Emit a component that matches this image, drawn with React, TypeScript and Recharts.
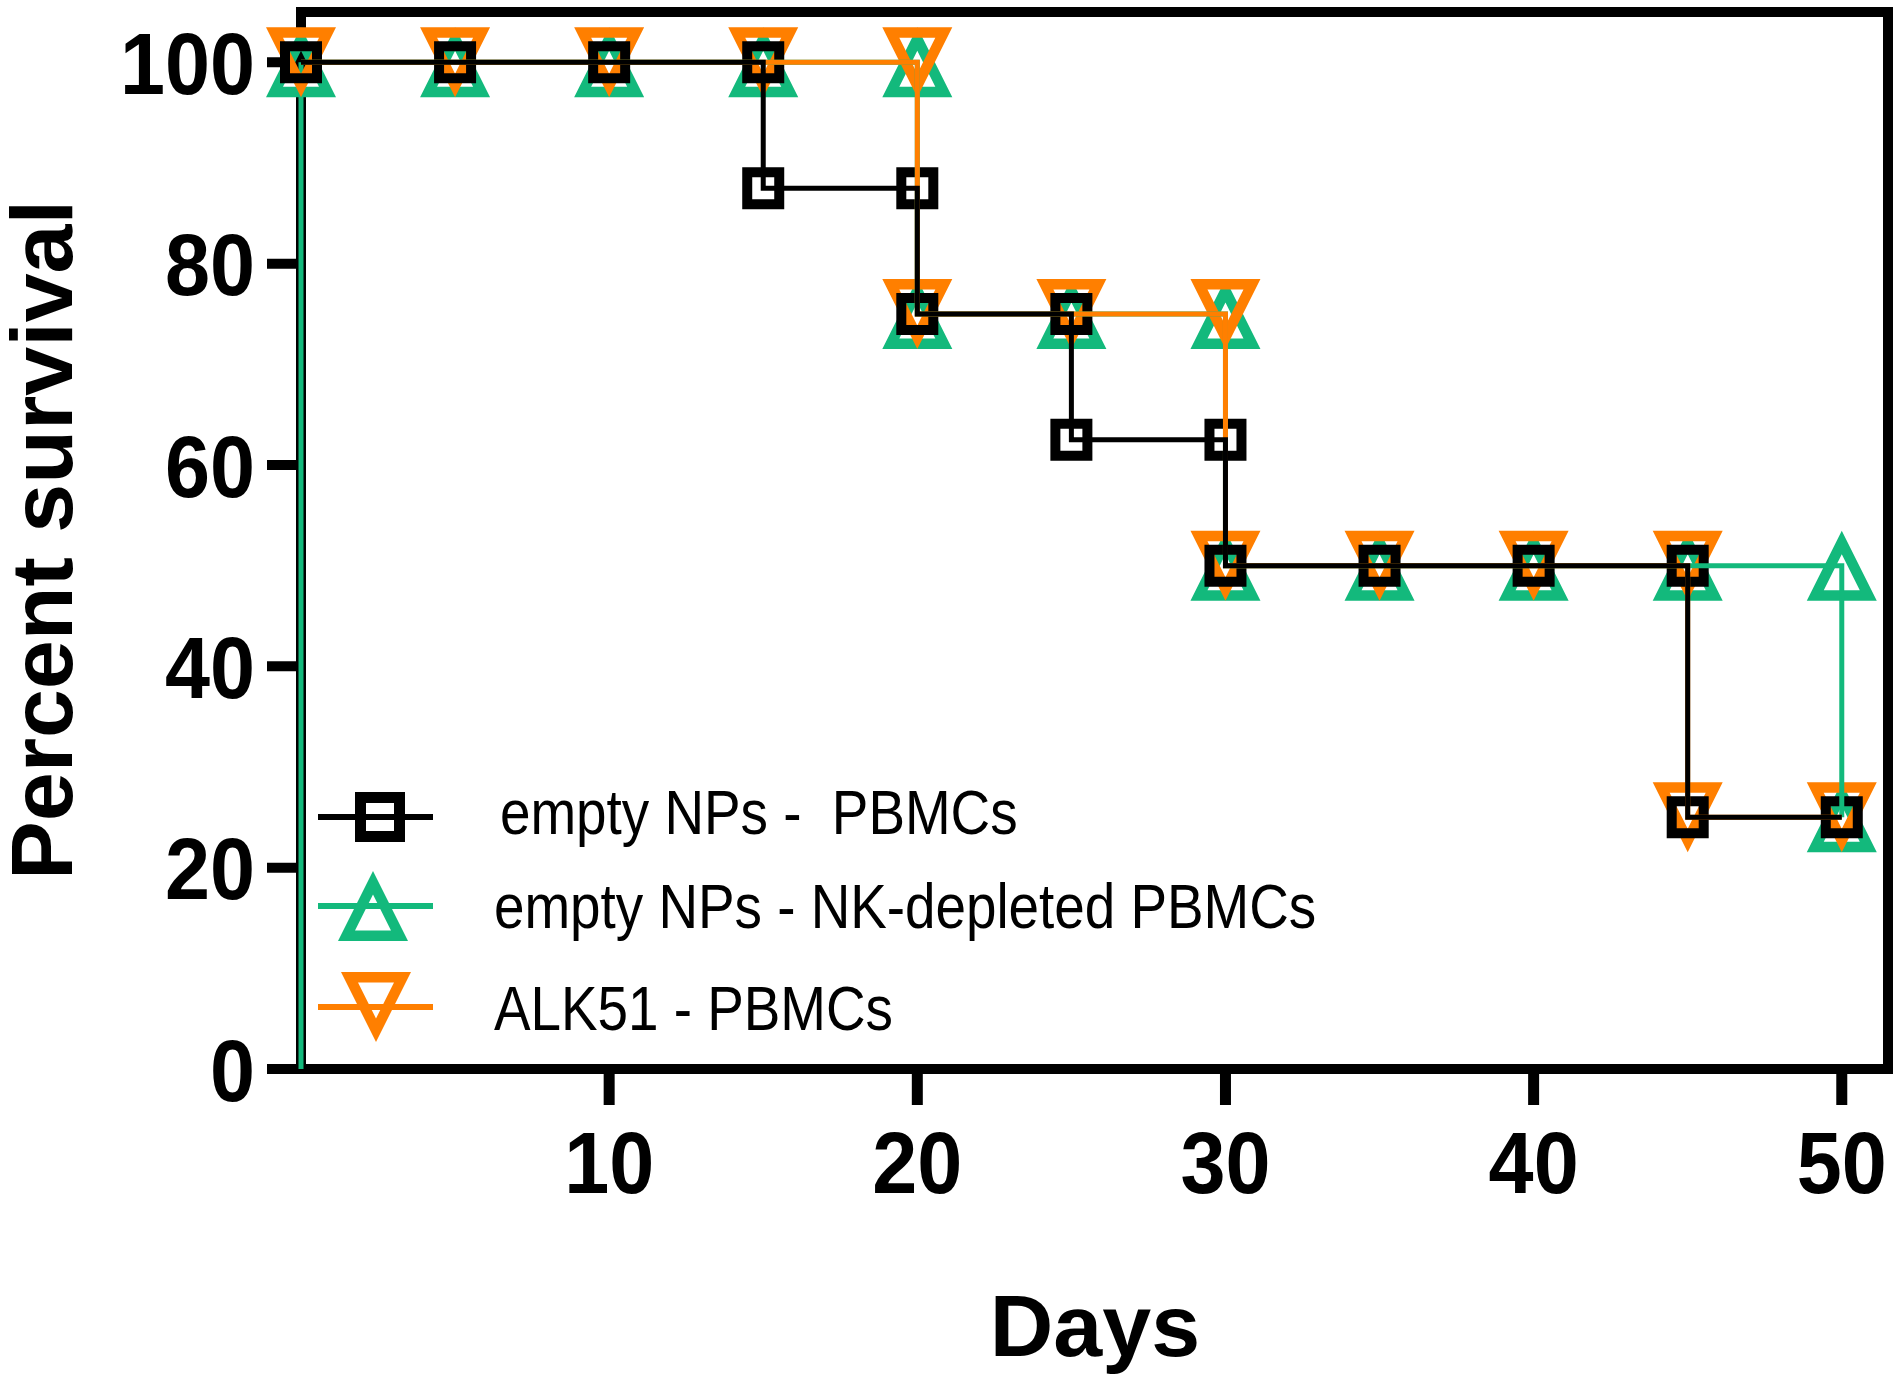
import {
    LineChart,
    Line,
    XAxis,
    YAxis,
    Legend,
    ReferenceArea,
} from "recharts";

// survival data (steps are given as duplicated days)
const emptyDays = [0, 5, 10, 15, 15, 20, 20, 25, 25, 30, 30, 35, 40, 45, 45, 50];
const emptySurvival = [100, 100, 100, 100, 87.5, 87.5, 75, 75, 62.5, 62.5, 50, 50, 50, 50, 25, 25];

const nkDays = [0, 5, 10, 15, 20, 20, 25, 30, 30, 35, 40, 45, 50, 50];
const nkSurvival = [100, 100, 100, 100, 100, 75, 75, 75, 50, 50, 50, 50, 50, 25];

// green drop drawn along the y axis at day 0
const nkAxisDays = [0, 0];
const nkAxisSurvival = [0, 100];

const alkDays = [0, 5, 10, 15, 20, 20, 25, 30, 30, 35, 40, 45, 45, 50];
const alkSurvival = [100, 100, 100, 100, 100, 75, 75, 75, 50, 50, 50, 50, 25, 25];

const seriesNames = [
    "empty NPs -  PBMCs",
    "empty NPs - NK-depleted PBMCs",
    "ALK51 - PBMCs",
];

const xTicks = [10, 20, 30, 40, 50];
const yTicks = [0, 20, 40, 60, 80, 100];

const BLACK = "#000000";
const GREEN = "#13B97C";
const ORANGE = "#FF7F00";
const FONT = "'Liberation Sans', Arial, Helvetica, sans-serif";

const toRows = (days: number[], values: number[]) =>
    days.map((day, i) => ({ day, pct: values[i] }));

const emptyRows = toRows(emptyDays, emptySurvival);
const nkRows = toRows(nkDays, nkSurvival);
const nkAxisRows = toRows(nkAxisDays, nkAxisSurvival);
const alkRows = toRows(alkDays, alkSurvival);

function squarePath(cx: number, cy: number, outer: number, inner: number) {
    return (
        `M${cx - outer},${cy - outer}H${cx + outer}V${cy + outer}H${cx - outer}Z` +
        `M${cx - inner},${cy - inner}H${cx + inner}V${cy + inner}H${cx - inner}Z`
    );
}

function trianglePath(cx: number, cy: number, dir: 1 | -1) {
    // dir 1 = pointing up, -1 = pointing down
    const h = 35;
    return (
        `M${cx},${cy - dir * h}L${cx + h},${cy + dir * h}L${cx - h},${cy + dir * h}Z` +
        `M${cx},${cy - dir * 11.5}L${cx + 18},${cy + dir * 24.5}L${cx - 18},${cy + dir * 24.5}Z`
    );
}

function Marker({ kind, cx, cy, big }: { kind: string; cx: number; cy: number; big?: boolean }) {
    if (kind === "square") {
        const o = big ? 25 : 21;
        const i = big ? 14 : 11;
        return <path d={squarePath(cx, cy, o, i)} fill={BLACK} fillRule="evenodd" />;
    }
    if (kind === "up") {
        return <path d={trianglePath(cx, cy, 1)} fill={GREEN} fillRule="evenodd" />;
    }
    return <path d={trianglePath(cx, cy, -1)} fill={ORANGE} fillRule="evenodd" />;
}

const makeDot = (kind: string) => (props: any) => (
    <Marker key={`${kind}-${props.index}`} kind={kind} cx={props.cx} cy={props.cy} />
);

function XTick({ x, y, payload }: any) {
    return (
        <g transform={`translate(${x},${y})`}>
            <text
                transform="scale(0.92,1)"
                textAnchor="middle"
                dy="0.716em"
                fontSize={88}
                fontWeight={700}
                fontFamily={FONT}
                fill={BLACK}
            >
                {payload.value}
            </text>
        </g>
    );
}

function YTick({ x, y, payload }: any) {
    return (
        <g transform={`translate(${x},${y})`}>
            <text
                transform="scale(0.92,1)"
                textAnchor="end"
                dy="0.358em"
                fontSize={88}
                fontWeight={700}
                fontFamily={FONT}
                fill={BLACK}
            >
                {payload.value}
            </text>
        </g>
    );
}

const legendKinds: Record<string, string> = {
    [seriesNames[0]]: "square",
    [seriesNames[1]]: "up",
    [seriesNames[2]]: "down",
};

// rows: line y, marker x, text x, text baseline
const legendRows = [
    { ly: 817, mx: 380, tx: 500, ty: 834 },
    { ly: 906, mx: 373, tx: 494, ty: 928 },
    { ly: 1007, mx: 376, tx: 494, ty: 1030 },
];

function SurvivalLegend({ payload }: any) {
    const items = seriesNames
        .map((name) => (payload || []).find((p: any) => p.value === name))
        .filter(Boolean);
    return (
        <svg
            width={1901}
            height={1381}
            style={{ position: "absolute", left: 0, top: 0, pointerEvents: "none" }}
        >
            {items.map((item: any, i: number) => {
                const r = legendRows[i];
                return (
                    <g key={item.value}>
                        <line
                            x1={318}
                            x2={433}
                            y1={r.ly}
                            y2={r.ly}
                            stroke={item.color}
                            strokeWidth={6}
                        />
                        <Marker kind={legendKinds[item.value]} cx={r.mx} cy={r.ly} big />
                        <text
                            transform={`translate(${r.tx},${r.ty}) scale(0.87,1)`}
                            fontSize={63}
                            fontFamily={FONT}
                            fill={BLACK}
                            style={{ whiteSpace: "pre" }}
                        >
                            {item.value}
                        </text>
                    </g>
                );
            })}
        </svg>
    );
}

const YTitle = () => (
    <text
        x={72}
        y={540}
        transform="rotate(-90 72 540)"
        textAnchor="middle"
        fontSize={88}
        fontWeight={700}
        fontFamily={FONT}
        fill={BLACK}
    >
        Percent survival
    </text>
);

const XTitle = () => (
    <text
        x={1095}
        y={1356}
        textAnchor="middle"
        fontSize={88}
        fontWeight={700}
        fontFamily={FONT}
        fill={BLACK}
    >
        Days
    </text>
);

export default function App() {
    return (
        <div
            style={{
                position: "fixed",
                left: 0,
                top: 0,
                width: 1901,
                height: 1381,
                background: "#ffffff",
            }}
        >
            <LineChart
                width={1901}
                height={1381}
                margin={{ top: 12, right: 13, bottom: 0, left: 0 }}
            >
                <XAxis
                    dataKey="day"
                    type="number"
                    domain={[0, 51.5]}
                    ticks={xTicks}
                    height={312}
                    tickSize={36}
                    tickMargin={25}
                    tick={<XTick />}
                    axisLine={{ stroke: BLACK, strokeWidth: 10 }}
                    tickLine={{ stroke: BLACK, strokeWidth: 11 }}
                    label={{ content: () => <XTitle /> }}
                />
                <YAxis
                    type="number"
                    domain={[0, 105]}
                    ticks={yTicks}
                    width={301}
                    tickSize={34}
                    tickMargin={12}
                    tick={<YTick />}
                    axisLine={{ stroke: BLACK, strokeWidth: 10 }}
                    tickLine={{ stroke: BLACK, strokeWidth: 10 }}
                    label={{ content: () => <YTitle /> }}
                />

                <ReferenceArea
                    x1={0}
                    x2={51.5}
                    y1={0}
                    y2={105}
                    fill="none"
                    stroke={BLACK}
                    strokeWidth={10}
                />

                <Legend
                    content={<SurvivalLegend />}
                    wrapperStyle={{
                        position: "absolute",
                        left: 0,
                        top: 0,
                        width: 0,
                        height: 0,
                        overflow: "visible",
                    }}
                />

                <Line
                    data={nkAxisRows}
                    dataKey="pct"
                    type="linear"
                    stroke={GREEN}
                    strokeWidth={5}
                    dot={false}
                    legendType="none"
                    isAnimationActive={false}
                    zIndex={600}
                />
                <Line
                    data={nkRows}
                    dataKey="pct"
                    name={seriesNames[1]}
                    type="linear"
                    stroke={GREEN}
                    strokeWidth={5}
                    dot={makeDot("up")}
                    activeDot={false}
                    isAnimationActive={false}
                    zIndex={601}
                />
                <Line
                    data={alkRows}
                    dataKey="pct"
                    name={seriesNames[2]}
                    type="linear"
                    stroke={ORANGE}
                    strokeWidth={5}
                    dot={makeDot("down")}
                    activeDot={false}
                    isAnimationActive={false}
                    zIndex={602}
                />
                <Line
                    data={emptyRows}
                    dataKey="pct"
                    name={seriesNames[0]}
                    type="linear"
                    stroke={BLACK}
                    strokeWidth={5}
                    dot={makeDot("square")}
                    activeDot={false}
                    isAnimationActive={false}
                    zIndex={603}
                />
            </LineChart>
        </div>
    );
}
